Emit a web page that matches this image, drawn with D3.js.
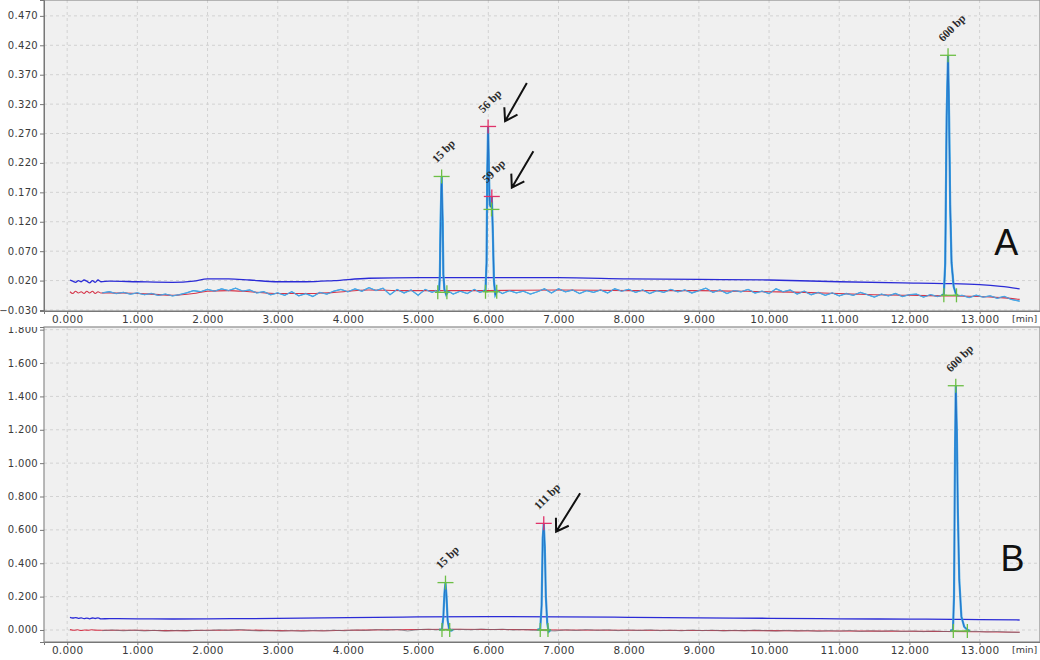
<!DOCTYPE html>
<html>
<head>
<meta charset="utf-8">
<script src="https://cdn.jsdelivr.net/npm/d3@7"></script>
<style>
  body { margin: 0; background: #fff; }
  svg { display: block; }
</style>
</head>
<body>
<div id="chart"></div>
<script>
// x axis (minutes), shared by both panels
const xTicks = [0, 1, 2, 3, 4, 5, 6, 7, 8, 9, 10, 11, 12, 13];
const yTicksA = [-0.030, 0.020, 0.070, 0.120, 0.170, 0.220, 0.270, 0.320, 0.370, 0.420, 0.470];
const yTicksB = [0.000, 0.200, 0.400, 0.600, 0.800, 1.000, 1.200, 1.400, 1.600, 1.800];

// ---- panel A ----
const blueA = [[0.04,0.021],[0.08,0.019],[0.12,0.017],[0.16,0.020],[0.20,0.018],[0.24,0.021],[0.28,0.019],[0.32,0.016],[0.36,0.020],[0.40,0.017],[0.44,0.021],[0.48,0.018],
  [0.6,0.019],[1.0,0.018],[1.5,0.017],[1.8,0.019],[2.0,0.023],[2.3,0.023],[2.6,0.021],[3.0,0.018],[3.4,0.018],[3.8,0.020],[4.3,0.024],[5.0,0.025],[6.0,0.025],[7.0,0.025],
  [8.0,0.023],[9.0,0.022],[10.0,0.021],[11.0,0.018],[11.9,0.016],[12.5,0.015],[13.0,0.013],[13.3,0.010],[13.57,0.006]];
const redA = [[0.04,0.001],[0.08,-0.002],[0.12,0.002],[0.16,-0.001],[0.20,0.001],[0.24,-0.002],[0.28,0.002],[0.32,-0.001],[0.36,0.002],[0.40,-0.002],[0.44,0.001],[0.48,-0.001],
  [0.8,-0.001],[1.2,-0.003],[1.5,-0.005],[1.8,-0.002],[2.0,0.002],[2.3,0.003],[2.6,0.001],[3.0,-0.002],[3.4,-0.002],[3.8,0.000],[4.3,0.004],[4.8,0.003],[5.3,0.003],[6.0,0.003],
  [7.0,0.004],[8.0,0.003],[9.0,0.003],[10.0,0.001],[10.5,0.000],[11.0,-0.002],[11.5,-0.004],[12.0,-0.005],[12.5,-0.006],[13.0,-0.007],[13.3,-0.009],[13.57,-0.012]];
const noiseA = [[0.5,-0.001],[0.6,0.001],[0.7,-0.002],[0.8,0.000],[0.9,-0.003],[1.0,-0.001],[1.1,-0.004],[1.2,-0.002],[1.3,-0.005],[1.4,-0.003],[1.5,-0.006],[1.6,-0.004],
  [1.7,-0.001],[1.8,0.003],[1.9,0.001],[2.0,0.005],[2.1,0.002],[2.2,0.006],[2.3,0.003],[2.4,0.007],[2.5,0.002],[2.6,0.004],[2.7,-0.001],[2.8,0.001],[2.9,-0.004],[3.0,-0.001],
  [3.1,-0.005],[3.2,0.001],[3.3,-0.006],[3.4,-0.002],[3.5,-0.007],[3.6,0.000],[3.7,-0.003],[3.8,0.002],[3.9,0.005],[4.0,0.001],[4.1,0.006],[4.2,0.002],[4.3,0.008],[4.4,0.003],
  [4.5,0.007],[4.6,-0.004],[4.7,0.005],[4.8,-0.001],[4.9,0.004],[5.0,-0.005],[5.1,0.005],[5.2,0.000],[5.25,0.003],
  [5.5,-0.003],[5.6,0.002],[5.7,-0.002],[5.8,0.005],[5.88,0.000],
  [6.2,-0.002],[6.3,0.003],[6.4,-0.001],[6.5,0.002],[6.6,-0.003],[6.7,0.001],[6.8,0.006],[6.9,-0.001],[7.0,0.006],[7.1,0.001],[7.2,0.004],[7.3,-0.002],[7.4,0.003],[7.5,0.000],
  [7.6,0.004],[7.7,-0.001],[7.8,0.006],[7.9,0.002],[8.0,0.005],[8.1,0.000],[8.2,0.004],[8.3,-0.002],[8.4,0.003],[8.5,0.000],[8.6,0.005],[8.7,0.001],[8.8,0.004],[8.9,-0.001],
  [9.0,0.003],[9.1,0.007],[9.2,0.000],[9.3,0.004],[9.4,-0.002],[9.5,0.003],[9.6,0.001],[9.7,0.005],[9.8,-0.001],[9.9,0.002],[10.0,-0.002],[10.1,0.006],[10.2,0.001],[10.3,0.004],
  [10.4,-0.003],[10.5,0.002],[10.6,-0.004],[10.7,0.000],[10.8,-0.005],[10.9,-0.001],[11.0,-0.006],[11.1,-0.002],[11.2,-0.005],[11.3,0.000],[11.4,-0.004],[11.5,-0.008],
  [11.6,-0.003],[11.7,-0.006],[11.8,-0.002],[11.9,-0.007],[12.0,-0.004],[12.1,-0.003],[12.2,-0.008],[12.3,-0.004],[12.4,-0.007],
  [12.75,-0.005],[12.85,-0.009],[12.95,-0.005],[13.05,-0.008],[13.15,-0.006],[13.25,-0.010],[13.35,-0.007],[13.45,-0.012],[13.57,-0.015]];
const peaksA = [
  [[5.27,0.001],[5.30,0.004],[5.31,0.03],[5.32,0.12],[5.335,0.197],[5.35,0.12],[5.36,0.03],[5.375,0.005],[5.40,-0.004],[5.43,0.002]],
  [[5.93,0.002],[5.96,0.004],[5.975,0.05],[5.985,0.20],[5.997,0.282],[6.01,0.20],[6.02,0.15],[6.035,0.145],[6.05,0.163],[6.065,0.10],[6.08,0.02],[6.10,-0.004],[6.13,0.003]],
  [[12.46,-0.005],[12.49,-0.003],[12.51,0.05],[12.53,0.30],[12.55,0.403],[12.565,0.30],[12.58,0.15],[12.60,0.05],[12.63,0.01],[12.66,-0.002],[12.69,-0.006]]
];
const marksA = [[5.335,0.197,"g"],[5.997,0.282,"r"],[6.05,0.163,"r"],[6.045,0.141,"g"],[12.55,0.403,"g"]];
const baseA = [[5.28,5.41,0.000],[5.96,6.12,0.001],[12.49,12.67,-0.005]];
const labelsA = [[5.335,0.197,"15 bp"],[5.997,0.282,"56 bp"],[6.05,0.163,"59 bp"],[12.55,0.403,"600 bp"]];
const arrowsA = [[6.549,0.356,6.239,0.291],[6.642,0.240,6.335,0.178]];

// ---- panel B ----
const blueB = [[0.04,0.076],[0.08,0.072],[0.12,0.074],[0.16,0.070],[0.20,0.073],[0.24,0.068],[0.28,0.071],[0.32,0.067],[0.36,0.072],[0.40,0.069],[0.44,0.073],[0.48,0.067],
  [0.6,0.068],[1.0,0.067],[1.5,0.066],[2.0,0.067],[3.0,0.069],[4.0,0.074],[5.0,0.078],[6.0,0.080],[7.0,0.079],[8.0,0.076],[9.0,0.073],[10.0,0.070],[11.0,0.067],[12.0,0.065],
  [12.6,0.064],[13.0,0.062],[13.57,0.060]];
const redB = [[0.04,0.002],[0.10,-0.002],[0.15,0.001],[0.20,-0.003],[0.25,0.000],[0.30,-0.002],[0.35,0.001],[0.40,-0.001],[0.5,-0.002],[1.0,-0.002],[1.5,-0.004],[2.0,-0.002],
  [2.5,0.000],[3.0,-0.004],[3.5,-0.005],[4.0,-0.002],[4.5,0.001],[5.0,0.003],[5.5,0.004],[6.0,0.003],[6.5,0.002],[7.0,0.000],[8.0,-0.002],[9.0,-0.003],[10.0,-0.004],
  [11.0,-0.006],[12.0,-0.008],[12.5,-0.009],[13.0,-0.011],[13.57,-0.014]];
const noiseB = [[0.5,-0.004],[0.65,0.000],[0.8,-0.005],[0.95,-0.001],[1.1,-0.006],[1.25,-0.002],[1.4,-0.007],[1.55,-0.003],[1.7,-0.006],[1.85,-0.001],[2.0,-0.004],[2.15,0.001],
  [2.3,-0.002],[2.45,0.003],[2.6,-0.003],[2.75,-0.006],[2.9,-0.002],[3.05,-0.007],[3.2,-0.004],[3.35,-0.008],[3.5,-0.003],[3.65,-0.006],[3.8,-0.001],[3.95,-0.005],[4.1,0.000],
  [4.25,-0.003],[4.4,0.002],[4.55,-0.002],[4.7,0.003],[4.85,-0.006],[5.0,0.002],[5.15,0.005],[5.25,0.001],
  [5.6,0.004],[5.75,0.001],[5.9,0.006],[6.05,0.002],[6.2,0.005],[6.35,0.000],[6.5,0.003],[6.62,-0.001],
  [6.95,-0.006],[7.1,0.001],[7.25,-0.003],[7.4,0.002],[7.55,-0.002],[7.7,0.001],[7.85,-0.004],[8.0,0.000],[8.15,-0.003],[8.3,0.001],[8.45,-0.004],[8.6,-0.001],[8.75,-0.005],
  [8.9,0.000],[9.05,-0.004],[9.2,-0.001],[9.35,-0.006],[9.5,-0.002],[9.65,-0.005],[9.8,0.000],[9.95,-0.004],[10.1,-0.007],[10.25,-0.002],[10.4,-0.006],[10.55,-0.003],
  [10.7,-0.008],[10.85,-0.004],[11.0,-0.007],[11.15,-0.003],[11.3,-0.009],[11.45,-0.005],[11.6,-0.008],[11.75,-0.004],[11.9,-0.009],[12.05,-0.006],[12.2,-0.010],
  [12.35,-0.006],[12.5,-0.009],
  [12.95,-0.008],[13.1,-0.012],[13.25,-0.009],[13.4,-0.013],[13.57,-0.014]];
const peaksB = [
  [[5.30,0.002],[5.34,0.004],[5.36,0.08],[5.375,0.22],[5.39,0.284],[5.405,0.20],[5.42,0.06],[5.44,0.01],[5.47,-0.004],[5.50,0.001]],
  [[6.70,0.002],[6.74,0.005],[6.76,0.15],[6.775,0.55],[6.79,0.639],[6.805,0.50],[6.82,0.20],[6.84,0.04],[6.86,-0.010],[6.89,0.002]],
  [[12.58,-0.004],[12.62,0.000],[12.635,0.20],[12.65,1.10],[12.66,1.464],[12.675,1.20],[12.69,0.70],[12.71,0.30],[12.74,0.08],[12.78,0.02],[12.82,0.003],[12.86,-0.006]]
];
const marksB = [[5.39,0.284,"g"],[6.79,0.639,"r"],[12.66,1.464,"g"]];
const baseB = [[5.34,5.45,0.000],[6.74,6.85,0.000],[12.625,12.825,-0.006]];
const labelsB = [[5.39,0.284,"15 bp"],[6.79,0.639,"111 bp"],[12.66,1.464,"600 bp"]];
const arrowsB = [[7.308,0.819,6.966,0.589]];

const W = 1040, H = 660;
const svg = d3.select("#chart").append("svg").attr("width", W).attr("height", H);

const x = d3.scaleLinear().domain([-0.33, 13.86]).range([44, 1040]);

function panel(cfg) {
  const y = d3.scaleLinear().domain(cfg.yDomain).range([cfg.bottom, cfg.top]);
  const g = svg.append("g");
  const clipId = "clip-" + cfg.name;
  g.append("clipPath").attr("id", clipId).append("rect")
    .attr("x", 44).attr("y", cfg.top).attr("width", 996).attr("height", cfg.bottom - cfg.top);

  g.append("rect").attr("x", 44).attr("y", cfg.top).attr("width", 996).attr("height", cfg.bottom - cfg.top)
    .attr("fill", "#f0f0f0");

  // dashed grid
  g.append("g").selectAll("line").data(xTicks).join("line")
    .attr("x1", d => x(d)).attr("x2", d => x(d)).attr("y1", cfg.top).attr("y2", cfg.bottom)
    .attr("stroke", "#d2d2d2").attr("stroke-dasharray", "3,3");
  g.append("g").selectAll("line").data(cfg.yTicks).join("line")
    .attr("x1", 44).attr("x2", 1040).attr("y1", d => y(d)).attr("y2", d => y(d))
    .attr("stroke", "#d2d2d2").attr("stroke-dasharray", "3,3");

  const plot = g.append("g").attr("clip-path", `url(#${clipId})`);
  const line = d3.line().x(d => x(d[0])).y(d => y(d[1]));
  const smooth = d3.line().x(d => x(d[0])).y(d => y(d[1])).curve(d3.curveMonotoneX);

  plot.append("path").datum(cfg.blue).attr("d", smooth).attr("fill", "none").attr("stroke", "#2b2bd6").attr("stroke-width", 1.3);

  if (cfg.name === "A") {
    const sig = d3.sort(cfg.noise.concat(...cfg.peaks), d => d[0]);
    plot.append("path").datum(sig).attr("d", line).attr("fill", "none").attr("stroke", "#3b9fe0").attr("stroke-width", 1.3);
    plot.append("path").datum(cfg.red).attr("d", smooth).attr("fill", "none").attr("stroke", "#d5354a").attr("stroke-width", 1.1);
    plot.append("path").datum(sig).attr("d", line).attr("fill", "none").attr("stroke", "#4aa8e8").attr("stroke-width", 1);
  } else {
    plot.append("path").datum(cfg.red).attr("d", smooth).attr("fill", "none").attr("stroke", "#d5354a").attr("stroke-width", 1.1);
    plot.append("path").datum(cfg.noise).attr("d", line).attr("fill", "none").attr("stroke", "#6d6d78").attr("stroke-width", 0.9).attr("opacity", 0.75);
  }
  cfg.peaks.forEach(p => {
    plot.append("path").datum(p).attr("d", line).attr("fill", "none").attr("stroke", "#3ba3e6").attr("stroke-width", 2.2);
    plot.append("path").datum(p).attr("d", line).attr("fill", "none").attr("stroke", "#1c5fb8").attr("stroke-width", 0.7);
  });

  // peak start/end baseline markers
  const green = "#6cbf45", red = "#e0336a";
  cfg.base.forEach(([t0, t1, v]) => {
    plot.append("line").attr("x1", x(t0)).attr("x2", x(t1)).attr("y1", y(v)).attr("y2", y(v))
      .attr("stroke", green).attr("stroke-width", 1.3);
    [t0, t1].forEach(t => {
      plot.append("line").attr("x1", x(t)).attr("x2", x(t)).attr("y1", y(v) - 7).attr("y2", y(v) + 7)
        .attr("stroke", green).attr("stroke-width", 1.3);
      plot.append("line").attr("x1", x(t) - 3).attr("x2", x(t) + 3).attr("y1", y(v)).attr("y2", y(v))
        .attr("stroke", green).attr("stroke-width", 1.3);
    });
  });
  // apex crosses
  cfg.marks.forEach(([t, v, c]) => {
    const col = c === "g" ? green : red;
    plot.append("line").attr("x1", x(t) - 8).attr("x2", x(t) + 8).attr("y1", y(v)).attr("y2", y(v))
      .attr("stroke", col).attr("stroke-width", 1.3);
    plot.append("line").attr("x1", x(t)).attr("x2", x(t)).attr("y1", y(v) - 7).attr("y2", y(v) + 7)
      .attr("stroke", col).attr("stroke-width", 1.3);
  });
  // peak labels
  cfg.labels.forEach(([t, v, s]) => {
    plot.append("text").attr("transform", `translate(${x(t) - 5},${y(v) - 13}) rotate(-45)`)
      .attr("font-family", "Liberation Serif, serif").attr("font-weight", "bold").attr("font-size", 11.5)
      .attr("fill", "#2a2a2a").text(s);
  });
  // arrows
  cfg.arrows.forEach(([ta, va, tb, vb]) => {
    const x0 = x(ta), y0 = y(va), x1 = x(tb), y1 = y(vb);
    const ang = Math.atan2(y0 - y1, x0 - x1);
    const L = 14, spread = Math.PI / 5.5;
    const p = d3.path();
    p.moveTo(x0, y0); p.lineTo(x1, y1);
    p.moveTo(x1 + L * Math.cos(ang - spread), y1 + L * Math.sin(ang - spread));
    p.lineTo(x1, y1);
    p.lineTo(x1 + L * Math.cos(ang + spread), y1 + L * Math.sin(ang + spread));
    plot.append("path").attr("d", p.toString()).attr("fill", "none").attr("stroke", "#111")
      .attr("stroke-width", 2).attr("stroke-linejoin", "miter");
  });
  // panel letter
  plot.append("text").attr("x", x(cfg.letter[0])).attr("y", y(cfg.letter[1])).attr("text-anchor", "middle")
    .attr("font-family", "Liberation Sans, Arial, sans-serif").attr("font-size", 36).attr("fill", "#111").text(cfg.letter[2]);

  // frame
  g.append("rect").attr("x", 44).attr("y", cfg.top).attr("width", 996).attr("height", cfg.bottom - cfg.top)
    .attr("fill", "none").attr("stroke", "#8c8c8c").attr("stroke-width", 1.2);

  // axes
  const yAxis = g.append("g").attr("transform", "translate(44,0)")
    .call(d3.axisLeft(y).tickValues(cfg.yTicks).tickFormat(d3.format(".3f")).tickSize(4).tickPadding(2));
  const xAxis = g.append("g").attr("transform", `translate(0,${cfg.bottom})`)
    .call(d3.axisBottom(x).tickValues(xTicks).tickFormat(d3.format(".3f")).tickSize(3).tickPadding(2));
  [yAxis, xAxis].forEach(a => {
    a.select(".domain").attr("stroke", "#777");
    a.selectAll(".tick line").attr("stroke", "#777");
    a.selectAll("text").attr("font-family", "DejaVu Sans, sans-serif").attr("font-size", 10.5)
      .attr("fill", "#3a3a3a").attr("letter-spacing", 0.3);
  });
  yAxis.selectAll("text").attr("font-size", 10).attr("dy", "0.3em");
  if (cfg.name === "B") {
    // the top label of panel B is cut by the panel edge
    g.append("clipPath").attr("id", "clipYB").append("rect").attr("x", -44).attr("y", cfg.top).attr("width", 44).attr("height", 400);
    yAxis.attr("clip-path", "url(#clipYB)");
  }
  g.append("text").attr("x", 1012).attr("y", cfg.bottom + 11).attr("font-family", "DejaVu Sans, sans-serif")
    .attr("font-size", 9.5).attr("fill", "#3a3a3a").text("[min]");
}

panel({ name: "A", top: 0, bottom: 311, yDomain: [-0.0317, 0.497], yTicks: yTicksA,
  blue: blueA, red: redA, noise: noiseA, peaks: peaksA, marks: marksA, base: baseA,
  labels: labelsA, arrows: arrowsA, letter: [13.38, 0.064, "A"] });
panel({ name: "B", top: 327, bottom: 642, yDomain: [-0.072, 1.816], yTicks: yTicksB,
  blue: blueB, red: redB, noise: noiseB, peaks: peaksB, marks: marksB, base: baseB,
  labels: labelsB, arrows: arrowsB, letter: [13.47, 0.354, "B"] });
</script>
</body>
</html>
